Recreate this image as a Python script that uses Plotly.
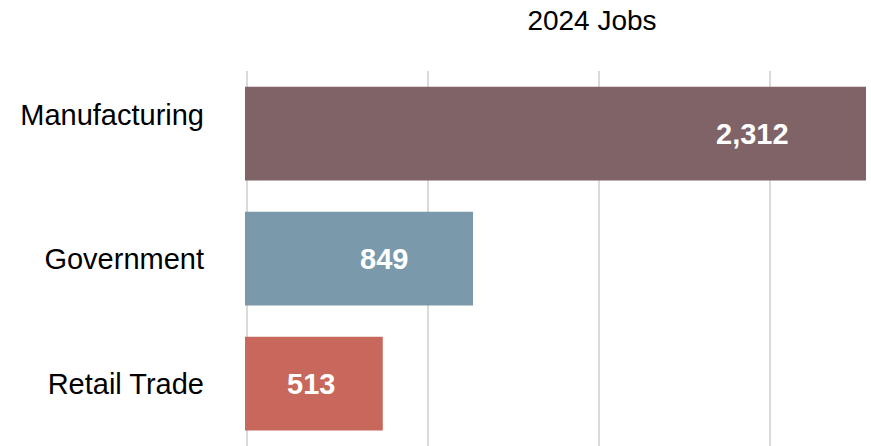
import plotly.graph_objects as go

categories = ["Manufacturing", "Government", "Retail Trade"]
jobs = [2312, 849, 513]
colors = ["#7F6367", "#7A9AAC", "#C8675B"]
grid_vals = [6, 680, 1318, 1955]
label_shift_px = [-114, -89, -72]

tick_text = ["Manufacturing<br> ", "Government", "Retail Trade"]

FONT = "Arial, Liberation Sans"
W, H = 871, 446

fig = go.Figure()
fig.add_trace(go.Bar(
    y=categories,
    x=jobs,
    orientation="h",
    marker=dict(color=colors, line=dict(width=0)),
    hoverinfo="skip",
))

for cat, v, s in zip(categories, jobs, label_shift_px):
    fig.add_annotation(
        x=v, y=cat, xref="x", yref="y",
        text=f"<b>{v:,}</b>",
        showarrow=False,
        xanchor="center", yanchor="middle",
        xshift=s,
        font=dict(color="white", size=29, family=FONT),
    )

fig.update_layout(
    width=W, height=H,
    margin=dict(l=245, r=5, t=71, b=0, pad=0, autoexpand=False),
    paper_bgcolor="white",
    plot_bgcolor="white",
    bargap=0.25,
    showlegend=False,
    font=dict(family=FONT, size=29, color="black"),
    title=dict(
        text="2024 Jobs",
        x=592 / W, xref="container", xanchor="center",
        y=1 - 20 / H, yref="container", yanchor="middle",
        font=dict(size=28, color="black"),
    ),
    xaxis=dict(
        range=[0, 2312],
        tickvals=grid_vals,
        showticklabels=False,
        showgrid=True,
        gridcolor="#DADADA",
        gridwidth=2,
        zeroline=False,
        showline=False,
        ticks="",
        fixedrange=True,
        automargin=False,
    ),
    yaxis=dict(
        categoryorder="array",
        categoryarray=categories,
        tickvals=categories,
        ticktext=tick_text,
        autorange="reversed",
        showgrid=False,
        zeroline=False,
        showline=False,
        ticks="",
        ticklabelstandoff=40,
        automargin=False,
        fixedrange=True,
        tickfont=dict(size=29, color="black"),
    ),
)

fig.write_html(
    "out.html",
    config={"displayModeBar": False, "staticPlot": True},
    post_script="document.body.style.margin='0';document.body.style.overflow='hidden';",
)
